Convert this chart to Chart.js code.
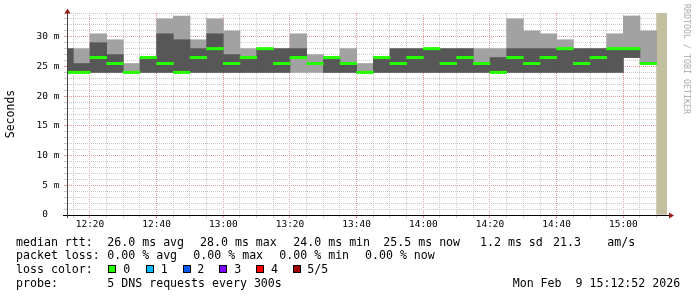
<!DOCTYPE html>
<html>
<head>
<meta charset="utf-8">
<script src="https://cdn.jsdelivr.net/npm/chart.js@4"></script>
<style>
  body { margin: 0; background: #fff; }
  #wrap { position: relative; width: 697px; height: 297px; font-family: "DejaVu Sans Mono", monospace; font-size: 11.6px; color: #000; }
  #wrap canvas { position: absolute; left: 0; top: 0; }
  .t { position: absolute; white-space: pre; line-height: 14px; }
  .box { position: absolute; width: 6px; height: 6px; border: 1px solid #000; top: 265px; }
  #credit { position: absolute; left: 692px; top: 4px; transform-origin: 0 0; transform: rotate(90deg);
            font-size: 8.3px; line-height: 10px; color: #aaa; white-space: pre; }
</style>
</head>
<body>
<div id="wrap">
  <canvas id="smoke" width="697" height="297"></canvas>
  <div id="credit">RRDTOOL / TOBI OETIKER</div>

  <div class="t" style="left:16px;top:234.5px">median rtt:</div>
  <div class="t" style="left:107.3px;top:234.5px">26.0 ms avg</div>
  <div class="t" style="left:200px;top:234.5px">28.0 ms max</div>
  <div class="t" style="left:293.3px;top:234.5px">24.0 ms min</div>
  <div class="t" style="left:383.3px;top:234.5px">25.5 ms now</div>
  <div class="t" style="left:480px;top:234.5px">1.2 ms sd</div>
  <div class="t" style="left:553px;top:234.5px">21.3</div>
  <div class="t" style="left:607.3px;top:234.5px">am/s</div>

  <div class="t" style="left:16px;top:248.3px">packet loss:</div>
  <div class="t" style="left:107.3px;top:248.3px">0.00 % avg</div>
  <div class="t" style="left:193.3px;top:248.3px">0.00 % max</div>
  <div class="t" style="left:279.3px;top:248.3px">0.00 % min</div>
  <div class="t" style="left:365px;top:248.3px">0.00 % now</div>

  <div class="t" style="left:16px;top:262.3px">loss color:</div>
  <div class="box" style="left:108px;background:#26ff00"></div>
  <div class="t" style="left:123.3px;top:262.3px">0</div>
  <div class="box" style="left:145.5px;background:#00b8ff"></div>
  <div class="t" style="left:160.7px;top:262.3px">1</div>
  <div class="box" style="left:182.5px;background:#0059ff"></div>
  <div class="t" style="left:197.3px;top:262.3px">2</div>
  <div class="box" style="left:219.3px;background:#7e00ff"></div>
  <div class="t" style="left:234.3px;top:262.3px">3</div>
  <div class="box" style="left:256px;background:#ff0000"></div>
  <div class="t" style="left:271px;top:262.3px">4</div>
  <div class="box" style="left:292.7px;background:#a00000"></div>
  <div class="t" style="left:307.3px;top:262.3px">5/5</div>

  <div class="t" style="left:16px;top:276.3px">probe:</div>
  <div class="t" style="left:107.3px;top:276.3px">5 DNS requests every 300s</div>
  <div class="t" style="left:512.7px;top:276.3px">Mon Feb  9 15:12:52 2026</div>
</div>

<script>
// 5 minute bins (start time of each bin)
const binStart = [
  "12:10", "12:15", "12:20", "12:25", "12:30", "12:35", "12:40", "12:45", "12:50",
  "12:55", "13:00", "13:05", "13:10", "13:15", "13:20", "13:25", "13:30", "13:35",
  "13:40", "13:45", "13:50", "13:55", "14:00", "14:05", "14:10", "14:15", "14:20",
  "14:25", "14:30", "14:35", "14:40", "14:45", "14:50", "14:55", "15:00", "15:05"
];
// sorted pings per bin, in ms (min, 2nd, median, 4th, max)
const pingMin = [24, 24, 24, 24, 24, 24, 24, 24, 24, 24, 24, 24, 24, 24, 24, 24, 24, 24,
                 24, 24, 24, 24, 24, 24, 24, 24, 24, 24, 24, 24, 24, 24, 24, 24, 26.5, 25.5];
const pingLow = [24, 24, 24, 24, 24, 24, 24, 24, 24, 24, 24, 24, 24, 24, 26.5, 25.5, 24, 24,
                 24, 24, 24, 24, 24, 24, 24, 24, 24, 24, 24, 24, 24, 24, 24, 24, 26.5, 25.5];
const pingMedian = [24, 24, 26.5, 25.5, 24, 26.5, 25.5, 24, 26.5, 28, 25.5, 26.5, 28, 25.5, 26.5, 25.5, 26.5, 25.5,
                    24, 26.5, 25.5, 26.5, 28, 25.5, 26.5, 25.5, 24, 26.5, 25.5, 26.5, 28, 25.5, 26.5, 28, 28, 25.5];
const pingHigh = [28, 25.5, 29, 27, 24, 26.5, 30.5, 29.5, 28, 30.5, 27, 26.5, 28, 28, 28, 25.5, 26.5, 25.5,
                  24, 26.5, 28, 28, 28, 28, 28, 25.5, 26.5, 28, 28, 28, 28, 28, 28, 28, 28, 25.5];
const pingMax = [28, 28, 30.5, 29.5, 25.5, 26.5, 33, 33.5, 29.5, 33, 31, 28, 28, 28, 30.5, 27, 26.5, 28,
                 25.5, 26.5, 28, 28, 28, 28, 28, 28, 28, 33, 31, 30.5, 29.5, 28, 28, 30.5, 33.5, 31];
// bin still waiting for data
const pendingStart = "15:10";

const timeLabels = ["12:20", "12:40", "13:00", "13:20", "13:40", "14:00", "14:20", "14:40", "15:00"];
const valueTicks = [0, 5, 10, 15, 20, 25, 30];
const valueTickLabels = ["0  ", "5 m", "10 m", "15 m", "20 m", "25 m", "30 m"];

const viewStart = "12:13:06";
const viewMinutes = 180;
const yMax = 34;

const BIN = 5;
const MED_HALF = 0.2;
const mono = "DejaVu Sans Mono";

const toMin = s => {
  const p = s.split(":").map(Number);
  return p[0] * 60 + p[1] + (p[2] || 0) / 60;
};
const fmt = v => {
  const h = Math.floor(v / 60), m = Math.round(v % 60);
  return h + ":" + String(m).padStart(2, "0");
};

const xMin = toMin(viewStart);
const xMax = xMin + viewMinutes;
const centers = binStart.map(s => toMin(s) + BIN / 2);

// 5 minute grid positions
const gridTimes = [];
for (let t = Math.ceil(xMin / BIN) * BIN; t < xMax; t += BIN) gridTimes.push(t);

const minorGrid = "#c9c9c9";
const majorGrid = "#e49a9a";

const axisArrows = {
  id: "axisArrows",
  afterDatasetsDraw(chart) {
    const { ctx, chartArea: a } = chart;
    const y0 = Math.round(a.bottom) + 0.5;
    const x0 = Math.round(a.left) + 0.5;
    ctx.save();
    ctx.lineWidth = 1;
    ctx.strokeStyle = "#000";
    ctx.beginPath();
    ctx.moveTo(a.left - 4, y0);
    ctx.lineTo(a.right + 3, y0);
    ctx.stroke();
    ctx.strokeStyle = "#444";
    ctx.beginPath();
    ctx.moveTo(x0, a.bottom + 3);
    ctx.lineTo(x0, a.top - 1);
    ctx.stroke();
    ctx.fillStyle = "#9c1b1b";
    ctx.beginPath();
    ctx.moveTo(x0, a.top - 4.5);
    ctx.lineTo(x0 - 3, a.top + 0.5);
    ctx.lineTo(x0 + 3, a.top + 0.5);
    ctx.closePath();
    ctx.fill();
    ctx.beginPath();
    ctx.moveTo(a.right + 7, y0);
    ctx.lineTo(a.right + 2, y0 - 3);
    ctx.lineTo(a.right + 2, y0 + 3);
    ctx.closePath();
    ctx.fill();
    ctx.restore();
  }
};

new Chart(document.getElementById("smoke").getContext("2d"), {
  type: "bar",
  data: {
    datasets: [
      {
        label: "median",
        data: centers.map((x, i) => ({ x, y: [pingMedian[i] - MED_HALF, pingMedian[i] + MED_HALF] })),
        backgroundColor: "#26ff00",
        order: 1
      },
      {
        label: "inner smoke",
        data: centers.map((x, i) => ({ x, y: [pingLow[i], pingHigh[i]] })),
        backgroundColor: "#575757",
        order: 2
      },
      {
        label: "outer smoke",
        data: centers.map((x, i) => ({ x, y: [pingMin[i], pingMax[i]] })),
        backgroundColor: "#a2a2a2",
        order: 3
      },
      {
        label: "pending",
        data: [{ x: toMin(pendingStart) + BIN / 2, y: [0, yMax] }],
        backgroundColor: "#c3c0a0",
        order: 4
      }
    ]
  },
  options: {
    responsive: false,
    animation: false,
    datasets: { bar: { barPercentage: 1, categoryPercentage: 1, borderWidth: 0, clip: 0 } },
    layout: { padding: { top: 13, right: 30, bottom: 62, left: 0 } },
    scales: {
      x: {
        type: "linear",
        stacked: true,
        offset: false,
        min: xMin,
        max: xMax,
        afterBuildTicks: s => { s.ticks = gridTimes.map(v => ({ value: v })); },
        afterFit: s => { s.height = 20; },
        ticks: {
          autoSkip: false,
          maxRotation: 0,
          padding: 1,
          color: "#000",
          font: { family: mono, size: 9.5 },
          callback: v => (timeLabels.includes(fmt(v)) ? fmt(v) : "")
        },
        grid: {
          offset: false,
          color: c => (c.tick && timeLabels.includes(fmt(c.tick.value)) ? majorGrid : minorGrid),
          tickColor: c => (c.tick && timeLabels.includes(fmt(c.tick.value)) ? majorGrid : minorGrid),
          tickLength: 3
        },
        border: { display: false, dash: [1, 1] }
      },
      y: {
        min: 0,
        max: yMax,
        afterFit: s => { s.width = 67; },
        ticks: {
          stepSize: 1,
          autoSkip: false,
          padding: 4.5,
          color: "#000",
          font: { family: mono, size: 9.5 },
          callback: v => {
            const k = valueTicks.indexOf(v);
            return k >= 0 ? valueTickLabels[k] : "";
          }
        },
        grid: {
          color: c => (c.tick && valueTicks.includes(c.tick.value) ? majorGrid : minorGrid),
          tickColor: c => (c.tick && valueTicks.includes(c.tick.value) ? majorGrid : minorGrid),
          tickLength: 3
        },
        border: { display: false, dash: [1, 1] },
        title: {
          display: true,
          text: "Seconds",
          color: "#000",
          font: { family: mono, size: 11.5 },
          padding: { top: 4, bottom: 0 }
        }
      }
    },
    plugins: {
      legend: { display: false },
      tooltip: { enabled: false }
    }
  },
  plugins: [axisArrows]
});
</script>
</body>
</html>
